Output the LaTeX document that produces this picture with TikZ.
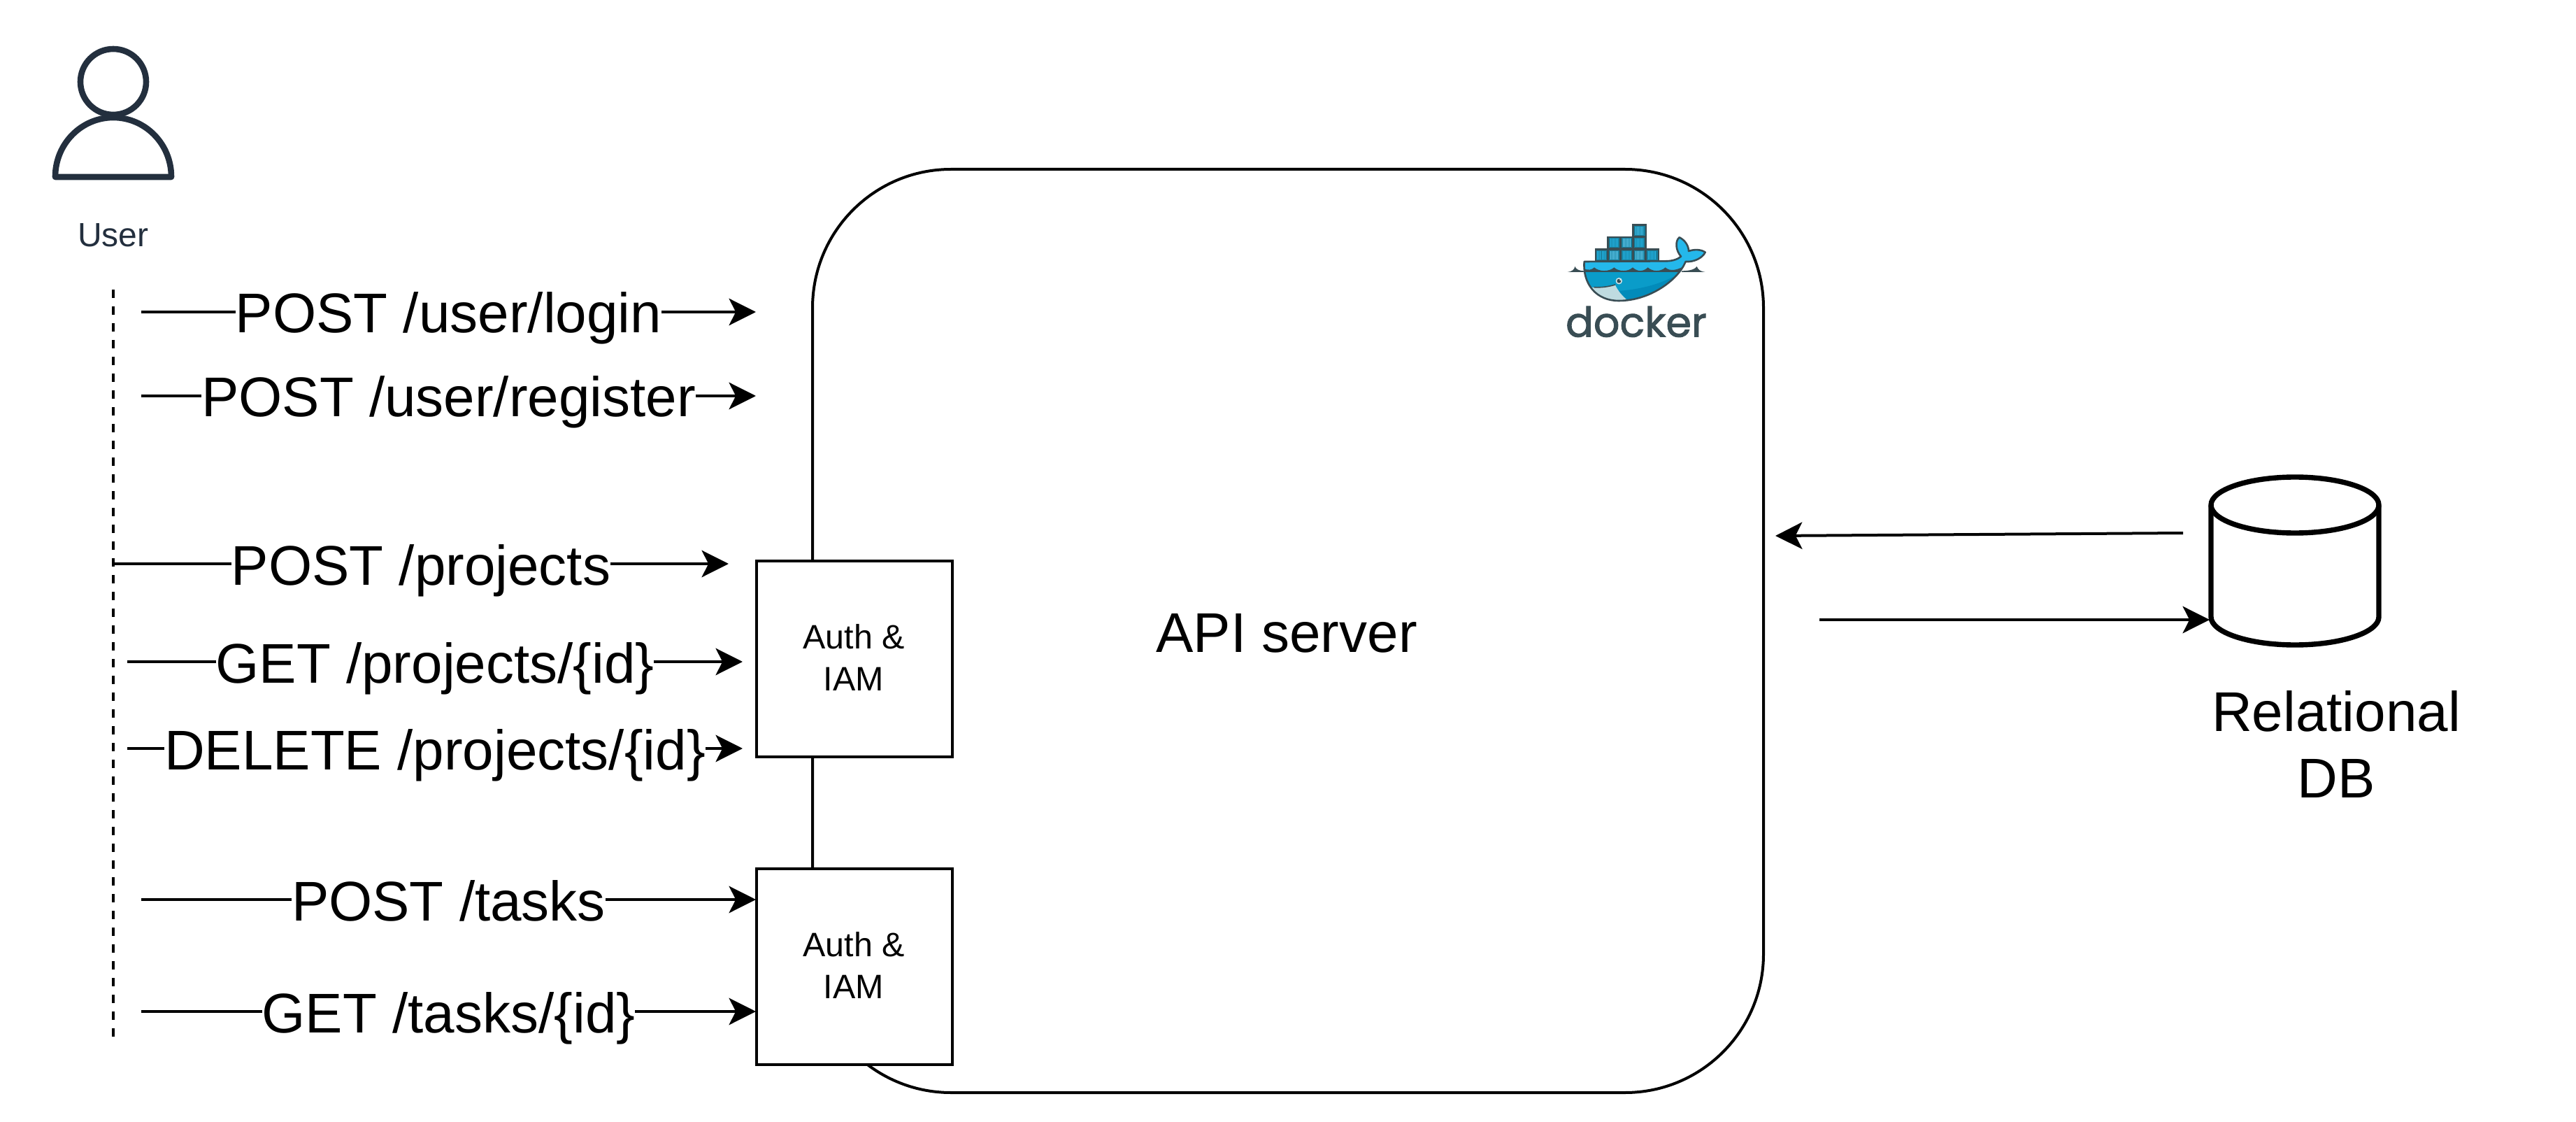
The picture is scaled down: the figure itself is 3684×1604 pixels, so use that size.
\documentclass[tikz,border=0pt]{standalone}
\usepackage{fontspec}
\setmainfont{Liberation Sans}
\newfontfamily\logofont[FakeBold=1.6]{Poppins}
\usetikzlibrary{arrows.meta}
\definecolor{ink}{HTML}{232F3E}
\definecolor{dk}{HTML}{394D54}
\definecolor{wtop}{HTML}{24B8EB}
\definecolor{wmid}{HTML}{0A9CC9}
\definecolor{wlow}{HTML}{028BBA}
\definecolor{wjaw}{HTML}{BFDBE0}
\definecolor{cbox}{HTML}{17809E}
\tikzset{
  line/.style={line width=1pt,draw=black},
  arr/.style={line,-{Stealth[length=9.6pt,width=9.6pt,inset=2.4pt]}},
  lab/.style={fill=white,inner xsep=0pt,inner ysep=0pt,font=\fontsize{20pt}{23.75pt}\selectfont,text height=16.8pt,text depth=1.8pt},
  big/.style={font=\fontsize{20pt}{23.75pt}\selectfont,align=center,inner sep=0pt},
  authbox/.style={rectangle,draw=black,fill=white,line width=1pt,minimum width=70pt,minimum height=70pt,outer sep=0pt,inner sep=0pt,align=center,text depth=1pt,font=\fontsize{12.1pt}{15pt}\selectfont},
  icon/.style={draw=ink,line width=2.15pt,line join=round},
}
\newcommand\dockbox[5]{%
  \fill[cbox] (#1+6,#2+6) rectangle (#1+#3-5,#2+#4-5);
  \foreach \k in {1,...,6}{\draw[#5,line width=.2pt] (#1+6+\k*6.2,#2+9) -- (#1+6+\k*6.2,#2+#4-8);}
}
\begin{document}
\begin{tikzpicture}[x=0.25pt,y=-0.25pt]
\useasboundingbox (0,0) rectangle (3684,1604);
% API server
\node[rectangle,draw=black,fill=white,line width=1pt,rounded corners=49.5pt,minimum width=340pt,minimum height=330pt,outer sep=0pt,big,text height=15.4pt] (api) at (1842,902) {API server\hspace*{1pt}};
% Auth boxes
\node[authbox] (auth1) at (1222,942) {Auth \&\hspace*{.5pt}\\IAM\hspace*{.5pt}};
\node[authbox] (auth2) at (1222,1382) {Auth \&\hspace*{.5pt}\\IAM\hspace*{.5pt}};
% User icon
\draw[icon] (162,117) circle [radius=11.75pt];
\draw[icon] (79,253) .. controls (79,205) and (117,168) .. (162,168) .. controls (207,168) and (245,205) .. (245,253) -- cycle;
\node[inner sep=0pt,text=ink,font=\fontsize{12pt}{14pt}\selectfont] (user) at (162,336) {User};
% Lifeline
\coordinate (ltop) at (162,414);
\coordinate (lbot) at (162,1484);
\draw[line,dash pattern=on 3pt off 3pt] (ltop) -- (lbot);
% Request arrows
\coordinate (a1) at (202,446);  \coordinate (b1) at (1081,446);
\coordinate (a2) at (202,566);  \coordinate (b2) at (1081,566);
\coordinate (a3) at (162,806);  \coordinate (b3) at (1042,806);
\coordinate (a4) at (182,946);  \coordinate (b4) at (1062,946);
\coordinate (a5) at (182,1070); \coordinate (b5) at (1062,1070);
\coordinate (a6) at (202,1286); \coordinate (b6) at (1081,1286);
\coordinate (a7) at (202,1446); \coordinate (b7) at (1081,1446);
\draw[arr] (a1) -- node[lab] (l1) {POST /user/login} (b1);
\draw[arr] (a2) -- node[lab] (l2) {POST /user/register} (b2);
\draw[arr] (a3) -- node[lab] (l3) {POST /projects} (b3);
\draw[arr] (a4) -- node[lab] (l4) {GET /projects/\{id\}} (b4);
\draw[arr] (a5) -- node[lab] (l5) {DELETE /projects/\{id\}} (b5);
\draw[arr] (a6) -- node[lab] (l6) {POST /tasks} (b6);
\draw[arr] (a7) -- node[lab] (l7) {GET /tasks/\{id\}} (b7);
% Database
\draw[line,line width=1.85pt,fill=white] (3162,722) -- (3162,882) .. controls (3162,904) and (3216,922) .. (3282,922) .. controls (3348,922) and (3402,904) .. (3402,882) -- (3402,722) .. controls (3402,700) and (3348,682) .. (3282,682) .. controls (3216,682) and (3162,700) .. (3162,722) -- cycle;
\draw[line,line width=1.85pt] (3162,722) .. controls (3162,744) and (3216,762) .. (3282,762) .. controls (3348,762) and (3402,744) .. (3402,722);
\coordinate (dbin) at (3160,886);
\coordinate (dbout) at (3122,762);
\coordinate (apiin) at (2539,766);
\coordinate (apiout) at (2602,886);
\node[big] (dbl) at (3341,1064) {Relational\\DB};
\draw[arr] (dbout) -- (apiin);
\draw[arr] (apiout) -- (dbin);
% Docker logo
\begin{scope}[shift={(2200,290)},x=0.08333pt,y=-0.08333pt]
\def\whalepath{(197,252) -- (545,250) .. controls (580,250) and (600,240) .. (612,230) .. controls (590,205) and (585,165) .. (605,148) .. controls (630,160) and (645,185) .. (645,207) .. controls (670,198) and (700,200) .. (716,212) .. controls (705,235) and (670,255) .. (632,252) .. controls (600,330) and (480,420) .. (345,420) .. controls (250,420) and (190,350) .. (197,252) -- cycle}
% water
\fill[dk] (125,297) .. controls (145,295) and (155,285) .. (157,273) .. controls (162,285) and (175,292) .. (197,292) -- (197,297) -- cycle;
\fill[dk] (615,292) .. controls (650,292) and (672,285) .. (680,273) .. controls (685,285) and (695,295) .. (716,297) -- (615,297) -- cycle;
% containers
\fill[dk] (242,195) rectangle (520,255);
\fill[dk] (295,143) rectangle (465,200);
\fill[dk] (403,90) rectangle (466,148);
\dockbox{242}{197}{56}{53}{wtop}
\dockbox{298}{197}{54}{53}{wtop!70!white}
\dockbox{352}{197}{54}{53}{wtop}
\dockbox{406}{197}{54}{53}{wtop!70!white}
\dockbox{460}{197}{58}{53}{wtop}
\dockbox{298}{145}{54}{52}{wtop}
\dockbox{352}{145}{54}{52}{wtop!70!white}
\dockbox{406}{145}{54}{52}{wtop}
\dockbox{406}{93}{58}{52}{wtop!85!white}
% whale
\fill[wtop] \whalepath;
\begin{scope}
\clip \whalepath;
\fill[wmid] (150,293) rectangle (700,440);
\fill[wlow] (640,270) -- (615,297) .. controls (540,345) and (440,372) .. (340,378) -- (300,380) -- (330,440) -- (640,440) -- cycle;
\fill[wjaw] (225,362) .. controls (260,365) and (300,360) .. (330,352) .. controls (340,375) and (360,400) .. (385,420) -- (225,420) -- cycle;
\fill[dk] (190,297) -- (190,280) .. controls (215,292) and (230,287) .. (240,277) .. controls (260,296) and (305,296) .. (325,277) .. controls (345,296) and (385,296) .. (405,277) .. controls (425,296) and (450,296) .. (470,277) .. controls (490,296) and (525,296) .. (545,277) .. controls (565,296) and (600,290) .. (640,262) -- (640,297) -- cycle;
\fill[wtop] (190,256) -- (640,256) -- (640,258) .. controls (600,282) and (565,290) .. (545,270) .. controls (525,288) and (490,288) .. (470,270) .. controls (450,288) and (425,288) .. (405,270) .. controls (385,288) and (345,288) .. (325,270) .. controls (305,288) and (260,288) .. (240,270) .. controls (230,280) and (215,284) .. (190,272) -- cycle;
\draw[dk,line width=.4pt] (238,362) .. controls (270,364) and (300,360) .. (330,351);
\end{scope}
\draw[dk,line width=.65pt,line join=round] \whalepath;
\fill[wjaw!60!white] (346,335) circle [radius=14];
\fill[dk] (346,335) circle [radius=9];
\fill[white] (351,330) circle [radius=3];
\node[inner sep=0pt,text=dk,font=\logofont\fontsize{14.7pt}{18pt}\selectfont] (dockerword) at (420,510) {docker};
\end{scope}
\end{tikzpicture}
\end{document}
